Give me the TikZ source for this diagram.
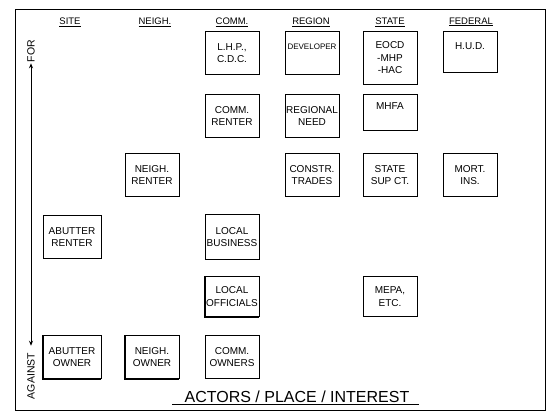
\documentclass[tikz,border=0pt]{standalone}
\usepackage{fontspec}
\setmainfont{Liberation Sans}
\usetikzlibrary{arrows.meta}
\tikzset{
  >={Stealth[length=5pt,width=4pt]},
  box/.style={draw,line width=0.9pt,anchor=north,minimum width=54pt,minimum height=43pt,inner sep=1pt,align=center,font=\fontsize{10}{12.5}\selectfont},
  sbox/.style={box,minimum width=58pt},
  hdr/.style={font=\fontsize{9.5}{11}\selectfont},
  lab/.style={font=\fontsize{10.5}{12}\selectfont,rotate=90,inner sep=1pt},
  arr/.style={<->,line width=0.8pt},
}
\begin{document}
\begin{tikzpicture}[x=1pt,y=-1pt]
\useasboundingbox (0,0) rectangle (548,417);
\draw[line width=1pt] (15,10) rectangle (545,410);
% column heads
\node[hdr] (hsite) at (70,22) {\underline{SITE}};
\node[hdr] (hneigh) at (155,22) {\underline{NEIGH.}};
\node[hdr] (hcomm) at (232,22) {\underline{COMM.}};
\node[hdr] (hreg) at (311,22) {\underline{REGION}};
\node[hdr] (hstate) at (390,22) {\underline{STATE}};
\node[hdr] (hfed) at (471,22) {\underline{FEDERAL}};
% actors
\node[box] (lhp) at (232,31) {L.H.P.,\\C.D.C.};
\node[box,font=\fontsize{8}{12.5}\selectfont] (dev) at (312,31) {DEVELOPER\\~};
\node[box,minimum height=53pt] (eocd) at (390,31) {EOCD\\-MHP\\-HAC};
\node[box,minimum height=41pt] (hud) at (470,31) {H.U.D.\\~};
\node[box] (crent) at (232,94) {COMM.\\RENTER};
\node[box] (rneed) at (312,94) {REGIONAL\\NEED};
\node[box,minimum height=36pt] (mhfa) at (390,94) {MHFA\\~};
\node[box] (nrent) at (152,153) {NEIGH.\\RENTER};
\node[box] (trades) at (312,153) {CONSTR.\\TRADES};
\node[box] (supct) at (390,153) {STATE\\SUP CT.};
\node[box] (mort) at (470,153) {MORT.\\INS.};
\node[sbox] (arent) at (72,215) {ABUTTER\\RENTER};
\node[box,minimum height=45pt] (lbus) at (232,214) {LOCAL\\BUSINESS};
\node[box,minimum height=40pt] (loff) at (232,276) {LOCAL\\OFFICIALS};
\node[box,minimum height=40pt] (mepa) at (390,276) {MEPA,\\ETC.};
\node[sbox] (aown) at (72,335) {ABUTTER\\OWNER};
\node[box] (nown) at (152,335) {NEIGH.\\OWNER};
\node[box] (cown) at (232,335) {COMM.\\OWNERS};
\foreach \n in {aown,nown,loff} \draw[line width=2pt] (\n.north west) |- (\n.south east);
% for / against
\node[lab] (for) at (31,51) {FOR};
\node[lab] (against) at (31,376) {AGAINST};
\draw[arr,shorten >=6pt] (for.west) -- (against.east);
\node[font=\fontsize{16}{18}\selectfont,inner sep=0pt] (title) at (297,397) {ACTORS / PLACE / INTEREST};
\draw[line width=0.8pt] ([shift={(-12,2)}]title.base west) -- ([shift={(9,2)}]title.base east);
\end{tikzpicture}
\end{document}
